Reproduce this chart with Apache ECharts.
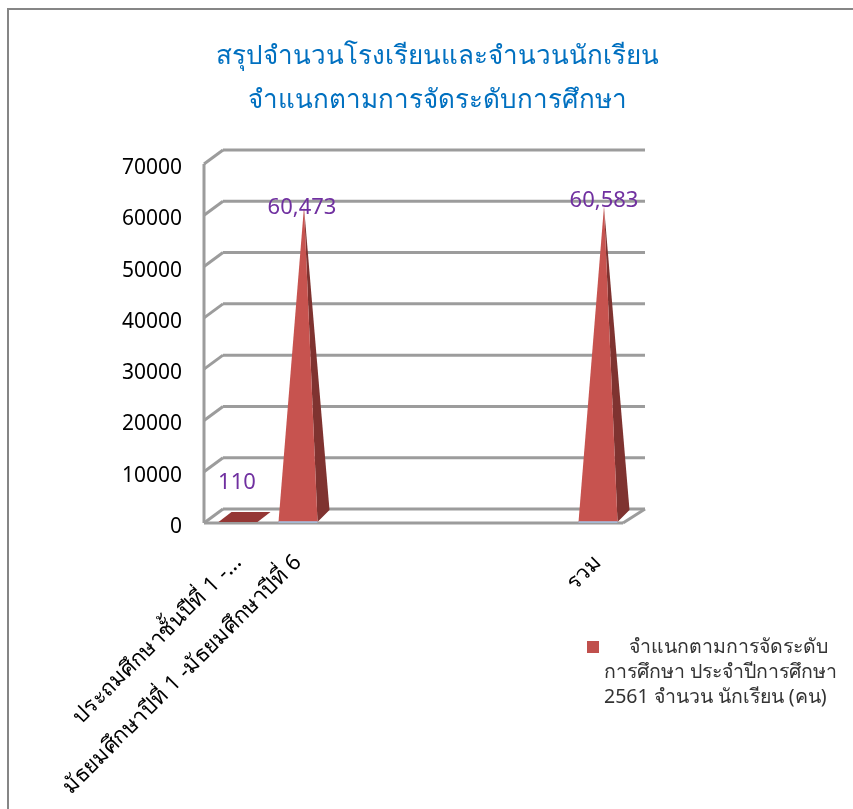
<!DOCTYPE html>
<html><head><meta charset="utf-8">
<style>html,body{margin:0;padding:0;background:#fff}#c{width:853px;height:809px}</style>
<script src="https://cdn.jsdelivr.net/npm/echarts@6/dist/echarts.min.js"></script>
</head><body><div id="c"></div>
<script>
const categories = ['ประถมศึกษาชั้นปีที่ 1 -...','มัธยมศึกษาปีที่ 1 -มัธยมศึกษาปีที่ 6','','','','','รวม'];
const values = [110, 60473, null, null, null, null, 60583];
const valueLabels = ['110','60,473','','','','','60,583'];
const yTicks = [0,10000,20000,30000,40000,50000,60000,70000];
const seriesName = '\u00a0\u00a0\u00a0\u00a0\u00a0จำแนกตามการจัดระดับ\nการศึกษา ประจำปีการศึกษา\n2561 จำนวน นักเรียน (คน)';
const FONT = 'Tahoma, "Noto Sans", sans-serif';
const chart = echarts.init(document.getElementById('c'));
chart.setOption({
  animation:false,
  title:{text:'สรุปจำนวนโรงเรียนและจำนวนนักเรียน\nจำแนกตามการจัดระดับการศึกษา',left:432,top:30,textAlign:'center',
    textStyle:{color:'#0070C0',fontFamily:FONT,fontSize:26,fontWeight:500,lineHeight:44}},
  grid:{left:208,right:225,top:164,bottom:286},
  legend:{left:587,top:635,padding:0,orient:'vertical',itemWidth:12,itemHeight:75,itemGap:0,
    icon:'path://M0 0L12 0L12 0ZM0 6H12V18H0ZM0 75L12 75L12 75Z',
    data:[seriesName],selectedMode:false,
    textStyle:{color:'#333',fontFamily:FONT,fontSize:19.5,lineHeight:25}},
  xAxis:{type:'category',data:categories,axisTick:{show:false},axisLine:{show:false},
    axisLabel:{interval:0,rotate:45,color:'#000',fontFamily:FONT,fontSize:22,margin:36}},
  yAxis:{type:'value',min:0,max:70000,interval:10000,
    axisLine:{show:false},axisTick:{show:false},splitLine:{show:false},
    axisLabel:{color:'#000',fontFamily:FONT,fontSize:21,margin:26,verticalAlign:'top',lineHeight:8,formatter:v=>String(v)}},
  series:[
    {type:'custom',silent:true,z:1,coordinateSystem:'cartesian2d',data:yTicks.map(v=>[0,v]),
      renderItem(p,api){
        const v=api.value(1);const y=api.coord([0,v])[1];const g=p.coordSys;
        const x0=g.x-4,x1=g.x+g.width-5,bx0=x0+19,bx1=x1+22,by=y-14;
        const line=(a,b,c,d)=>({type:'line',shape:{x1:a,y1:b,x2:c,y2:d},style:{stroke:'#9C9C9C',lineWidth:3}});
        const ch=[line(x0,y,bx0,by),line(bx0,by,bx1,by)];
        if(v===0){ ch.push(line(x1,y,bx1,by)); ch.push(line(x0,y,x1,y)); ch.push(line(x0,y,x0,g.y)); }
        return {type:'group',children:ch};
      },encode:{x:0,y:1}},
    {type:'custom',name:seriesName,z:3,coordinateSystem:'cartesian2d',itemStyle:{color:'#C0504D'},
      data:values.map((v,i)=>[i,v]).filter(d=>d[1]!=null),
      renderItem(p,api){
        const cat=api.value(0),v=api.value(1);
        const base=api.coord([cat,0]),top=api.coord([cat,v]);
        const hw=19.5,xl=base[0]-hw,xr=base[0]+hw,yb=base[1]-1;
        const ax=base[0]+6,ay=top[1]-6;
        const bx=xr+12,by=yb-12;
        const small=v<1000;
        const label={type:'text',style:{text:valueLabels[cat],
          x:small?base[0]-1:base[0]+(cat>3?6:4),
          y:small?yb-39:ay+(cat>3?-6:1),
          align:'center',verticalAlign:'middle',fill:'#7030A0',font:'22px '+FONT}};
        if(small){
          return {type:'group',children:[
            {type:'polygon',shape:{points:[[xl,yb],[xr,yb],[xr+13,yb-10],[xl+13,yb-10]]},style:{fill:'#953735'}},label]};
        }
        return {type:'group',children:[
          {type:'polygon',shape:{points:[[xr,yb],[bx,by],[ax,ay]]},style:{fill:'#7F3330'}},
          {type:'polygon',shape:{points:[[xl,yb],[xr,yb],[ax,ay]]},style:{fill:'#C7534F'}},
          {type:'line',shape:{x1:xl,y1:yb,x2:xr,y2:yb},style:{stroke:'#A9C4E6',lineWidth:1.5}},
          label]};
      },encode:{x:0,y:1}}
  ],
  graphic:[{type:'polyline',silent:true,z:0,shape:{points:[[8,809],[8,9],[853,9]]},style:{fill:'none',stroke:'#868686',lineWidth:2}}]
});
</script></body></html>
